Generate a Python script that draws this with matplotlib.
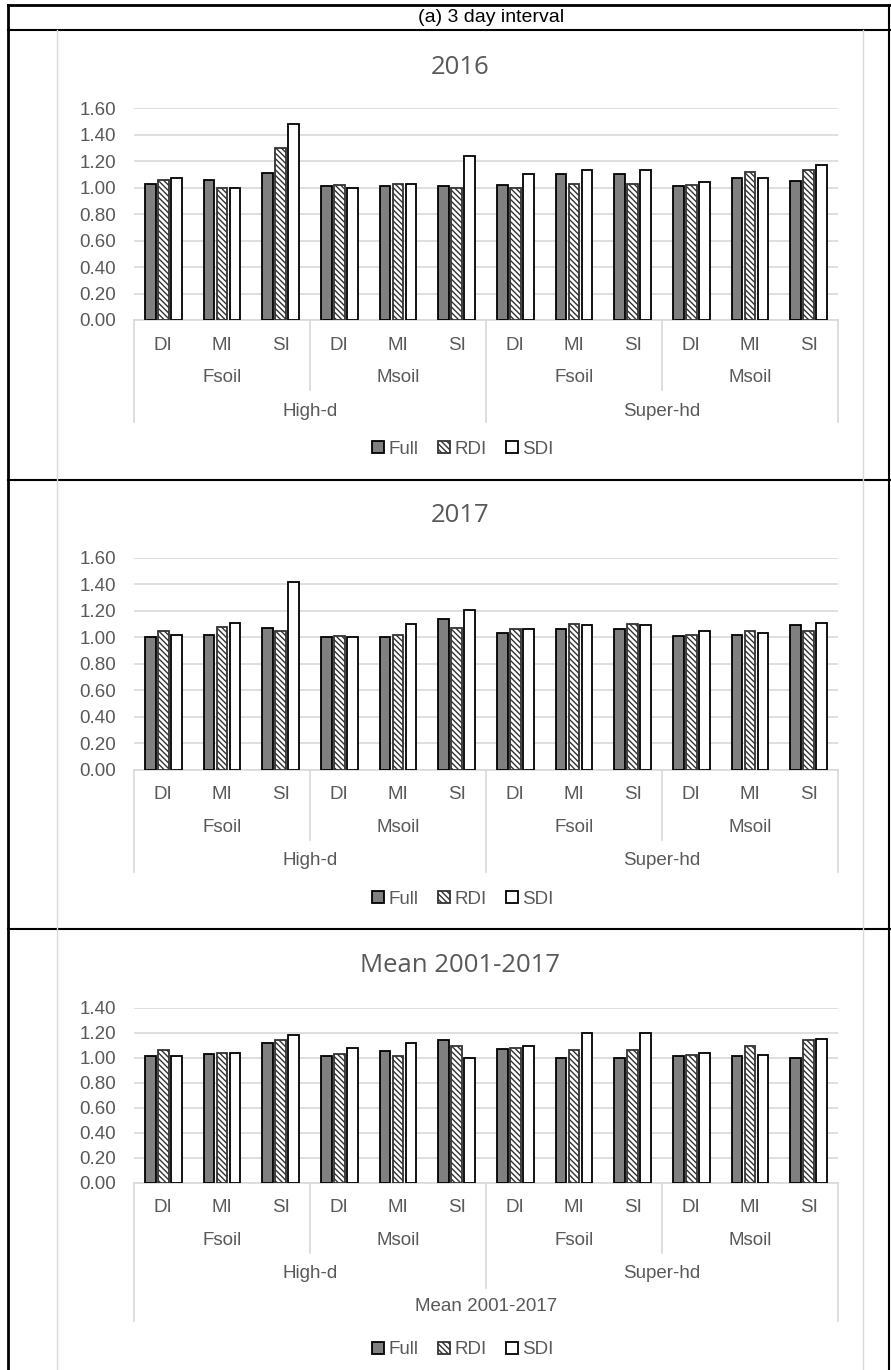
# Ratio bar charts, 3 day interval: 2016, 2017 and mean 2001-2017

import matplotlib
matplotlib.use("Agg")
import matplotlib.pyplot as plt
from matplotlib.lines import Line2D
import numpy as np

# ==============================================================================

irrig = ["DI", "MI", "SI"] * 4
soils = ["Fsoil", "Msoil", "Fsoil", "Msoil"]
density = ["High-d", "Super-hd"]
series = ["Full", "RDI", "SDI"]

full_2016 = [1.03, 1.06, 1.11, 1.01, 1.01, 1.01, 1.02, 1.10, 1.10, 1.01, 1.07, 1.05]
rdi_2016 = [1.06, 1.00, 1.30, 1.02, 1.03, 1.00, 1.00, 1.03, 1.03, 1.02, 1.12, 1.13]
sdi_2016 = [1.07, 1.00, 1.48, 1.00, 1.03, 1.24, 1.10, 1.13, 1.13, 1.04, 1.07, 1.17]

full_2017 = [1.00, 1.02, 1.07, 1.00, 1.00, 1.14, 1.03, 1.06, 1.06, 1.01, 1.02, 1.09]
rdi_2017 = [1.05, 1.08, 1.05, 1.01, 1.02, 1.07, 1.06, 1.10, 1.10, 1.02, 1.05, 1.05]
sdi_2017 = [1.02, 1.11, 1.42, 1.00, 1.10, 1.21, 1.06, 1.09, 1.09, 1.05, 1.03, 1.11]

full_mean = [1.01, 1.03, 1.12, 1.01, 1.05, 1.14, 1.07, 1.00, 1.00, 1.01, 1.01, 1.00]
rdi_mean = [1.06, 1.04, 1.14, 1.03, 1.01, 1.09, 1.08, 1.06, 1.06, 1.02, 1.09, 1.14]
sdi_mean = [1.01, 1.04, 1.18, 1.08, 1.12, 1.00, 1.09, 1.20, 1.20, 1.04, 1.02, 1.15]

titles = ["2016", "2017", "Mean 2001-2017"]
ymaxes = [1.6, 1.6, 1.4]

# ------------------------------------------------------------------------------

W, H = 891, 1370
fig = plt.figure(figsize=(W / 100, H / 100), dpi=100)

def fx(x):
  return x / W

def fy(y):
  return 1 - y / H

def hline(y, x0, x1, color="black", lw=1.5):
  fig.add_artist(Line2D([fx(x0), fx(x1)], [fy(y), fy(y)], color=color, lw=lw,
                        transform=fig.transFigure))

def vline(x, y0, y1, color="black", lw=1.5):
  fig.add_artist(Line2D([fx(x), fx(x)], [fy(y0), fy(y1)], color=color, lw=lw,
                        transform=fig.transFigure))

grey_txt = "#595959"
light = "#d9d9d9"
font = "Liberation Sans"

# outer frame and panel separators
hline(5, 8, 891, lw=2)
hline(30, 8, 891, lw=1.5)
hline(480, 8, 891, lw=1.5)
hline(929, 8, 891, lw=1.5)
vline(8, 5, 1370, lw=2)
vline(889, 5, 1370, lw=1.5)
vline(57, 30, 1370, color=light, lw=1)
vline(863, 30, 1370, color=light, lw=1)

fig.text(fx(491), fy(18), "(a) 3 day interval", ha="center", va="center",
         fontsize=14, family=font, color="black")

# plot area pixel bounds: (top, bottom)
areas = [(108.3, 320), (558, 769.5), (1007.7, 1182.7)]
title_y = [67, 515, 965]
legend_y = [449, 899, 1350]
data = [(full_2016, rdi_2016, sdi_2016),
        (full_2017, rdi_2017, sdi_2017),
        (full_mean, rdi_mean, sdi_mean)]

plt.rcParams["hatch.linewidth"] = 1.0
x = np.arange(len(irrig))
bw = 0.18
off = 0.222

for k in range(3):
  top, bot = areas[k]
  ax = fig.add_axes([fx(134), fy(bot), (838 - 134) / W, (bot - top) / H])
  ahp = bot - top  # axes height in px

  f, r, s = data[k]
  ax.bar(x - off, f, bw, color="#808080", edgecolor="black", lw=1.3, zorder=3, label=series[0])
  ax.bar(x, r, bw, color="white", edgecolor="#333333", hatch="\\" * 6, lw=1.3, zorder=3, label=series[1])
  ax.bar(x + off, s, bw, color="white", edgecolor="black", lw=1.3, zorder=3, label=series[2])

  ax.set_xlim(-0.5, 11.5)
  ax.set_ylim(0, ymaxes[k])
  ax.set_yticks(np.arange(0, ymaxes[k] + 0.01, 0.2))
  ax.set_yticklabels([f"{v:.2f}" for v in np.arange(0, ymaxes[k] + 0.01, 0.2)],
                     family=font, fontsize=13.5, color=grey_txt)
  ax.tick_params(axis="y", length=0, pad=13)
  ax.set_xticks([])
  ax.grid(axis="y", color=light, lw=1.2, zorder=0)
  for sp in ["top", "right", "left"]:
    ax.spines[sp].set_visible(False)
  ax.spines["bottom"].set_color(light)
  ax.spines["bottom"].set_linewidth(1.2)

  # multi-level category axis
  def lab(xpos, dy, txt):
    ax.annotate(txt, xy=(xpos, 0), xycoords=("data", "axes fraction"),
                xytext=(0, -dy * 0.72), textcoords="offset points",
                ha="center", va="center", fontsize=13.5, family=font,
                color=grey_txt, annotation_clip=False)

  def sep(xpos, depth):
    ax.plot([xpos, xpos], [0, -depth / ahp], color=light, lw=1.2,
            transform=ax.get_xaxis_transform(), clip_on=False)

  for i, t in enumerate(irrig):
    lab(i, 25, t)
  for i, t in enumerate(soils):
    lab(3 * i + 1, 58, t)
  for i, t in enumerate(density):
    lab(6 * i + 2.5, 91, t)

  if k == 2:
    lab(5.5, 124, "Mean 2001-2017")
    edge = 138
  else:
    edge = 102
  sep(-0.5, edge)
  sep(11.5, edge)
  sep(5.5, 105 if k == 2 else edge)
  sep(2.5, 70)
  sep(8.5, 70)

  fig.text(fx(460), fy(title_y[k]), titles[k], ha="center", va="center",
           fontsize=18.5, family="Open Sans", color=grey_txt)

  fig.legend(*ax.get_legend_handles_labels(), loc="center", ncol=3,
             bbox_to_anchor=(fx(463), fy(legend_y[k])), frameon=False,
             prop={"family": font, "size": 13.5}, handlelength=0.65,
             handleheight=0.65, handletextpad=0.25, columnspacing=1.0,
             labelcolor=grey_txt, borderaxespad=0)

fig.savefig("out.png", dpi=100)
